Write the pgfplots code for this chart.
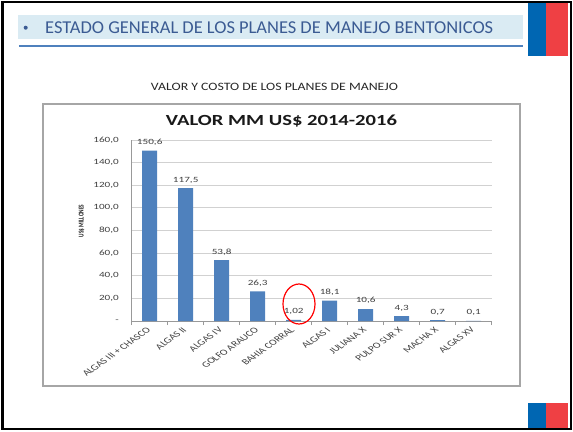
\documentclass[border=0pt]{standalone}
\usepackage{pgfplots}
\pgfplotsset{compat=1.18}
\usetikzlibrary{calc}
\usepackage{fontspec}
\setmainfont{Carlito}
\definecolor{barblue}{RGB}{79,129,189}
\definecolor{hdrbg}{RGB}{218,235,243}
\definecolor{hdrline}{RGB}{79,129,189}
\definecolor{hdrtext}{RGB}{59,91,147}
\definecolor{flagblue}{RGB}{0,102,178}
\definecolor{flagred}{RGB}{239,64,68}
\definecolor{lbl}{RGB}{64,64,64}
\begin{document}
\begin{tikzpicture}[x=1bp,y=1bp]
\begin{axis}[
  scale only axis, width=360bp, height=181bp,
  xmin=-0.5, xmax=9.5, ymin=0, ymax=160,
  axis x line*=bottom, axis y line*=left,
  axis line style={draw=black!40, line width=0.8bp},
  ytick={0,20,40,60,80,100,120,140,160},
  yticklabels={{-},{20,0},{40,0},{60,0},{80,0},{100,0},{120,0},{140,0},{160,0}},
  ymajorgrids, grid style={draw=black!18, line width=0.9bp},
  xtick={0,...,9},
  xticklabels={ALGAS III + CHASCO, ALGAS II, ALGAS IV, GOLFO ARAUCO, BAHIA CORRAL, ALGAS I, JULIANA X, PULPO SUR X, MACHA X, ALGAS XV},
  minor xtick={-0.5,0.5,...,9.5},
  tick align=outside, major tick length=0pt, minor tick length=4bp,
  minor tick style={draw=black!40, line width=0.8bp},
  yticklabel style={font=\fontsize{8}{8}\selectfont, text=lbl, xshift=-8bp, xscale=1.4, anchor=east},
  xticklabel style={font=\fontsize{8.2}{8}\selectfont, text=lbl, yshift=-7bp, xscale=1.4, rotate=45, anchor=east, inner sep=1pt},
  ybar, bar width=15bp,
  point meta=explicit symbolic,
  nodes near coords={\pgfplotspointmeta},
  every node near coord/.append style={font=\fontsize{8}{8}\selectfont, text=lbl, yshift=1.5bp, xscale=1.4},
  clip=false,
]
\addplot[fill=barblue, draw=none] coordinates {
  (0,150.6) [150,6]
  (1,117.5) [117,5]
  (2,53.8) [53,8]
  (3,26.3) [26,3]
  (4,1.02) [1,02]
  (5,18.1) [18,1]
  (6,10.6) [10,6]
  (7,4.3) [4,3]
  (8,0.7) [0,7]
  (9,0.1) [0,1]
};
\coordinate (sw) at (axis cs:-0.5,0);
\end{axis}
\begin{scope}[shift={($(sw)-(131.7bp,110bp)$)}]
% header
\fill[hdrbg] (17.7,416.5) rectangle (522.7,391.7);
\draw[hdrline, line width=2bp] (19,385.3) -- (522.7,385.3);
\fill[hdrtext] (25.7,403.3) circle (2bp);
\node[anchor=base west, inner sep=0pt, text=hdrtext] at (45,397.7)
  {\resizebox{448bp}{\height}{\fontsize{18.2}{20}\selectfont ESTADO GENERAL DE LOS PLANES DE MANEJO BENTONICOS}};
% flags
\fill[flagblue] (527.7,429) rectangle (546,375.3);
\fill[flagred] (546,429) rectangle (567.7,375.3);
\fill[flagblue] (528.3,28.3) rectangle (546,3);
\fill[flagred] (546,28.3) rectangle (567.7,3);
% frame
\draw[line width=2.5bp] (2.5,2) rectangle (571,429);
% subtitle
\node[anchor=base, inner sep=0pt, text=black!85] at (274.5,340.3)
  {\resizebox{247bp}{\height}{\fontsize{11.3}{13}\selectfont VALOR Y COSTO DE LOS PLANES DE MANEJO}};
% chart box
\draw[black!35, line width=1.3bp] (43,327) rectangle (520,45);
% chart title
\node[anchor=base, inner sep=0pt, text=black!90] at (281.5,306)
  {\resizebox{231bp}{\height}{\fontsize{15.5}{17}\selectfont\bfseries VALOR MM US\$ 2014-2016}};
% y label
\node[font=\bfseries\fontsize{5.3}{6}\selectfont, text=black!90, xscale=1.4, rotate=90] at (81.7,210) {US\$ MILLONES};
% red circle
\draw[red, line width=1.2bp] (299,127) ellipse (16bp and 20bp);
\pgfresetboundingbox
\useasboundingbox (0,0) rectangle (573,431);
\end{scope}
\end{tikzpicture}
\end{document}
